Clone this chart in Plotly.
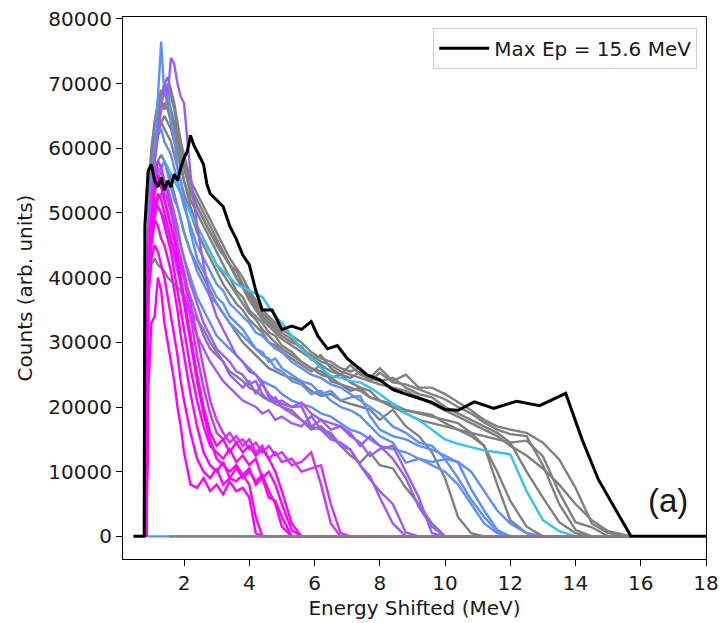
import plotly.graph_objects as go

# Energy grid (MeV) shared by the shot spectra
energy = [0.85, 0.9, 1.0, 1.1, 1.2, 1.3, 1.4, 1.5, 1.6, 1.7, 1.8, 1.9, 2.0, 2.2, 2.4, 2.6, 2.8,
          3.0, 3.2, 3.4, 3.6, 3.8, 4.0, 4.2, 4.4, 4.6, 4.8, 5.0, 5.3, 5.6, 5.9, 6.2, 6.5, 6.8,
          7.1, 7.4, 7.7, 8.0, 8.4, 8.8, 9.2, 9.6, 10.0, 10.4, 10.8, 11.2, 11.6, 12.0, 12.5,
          13.0, 13.5, 14.0, 14.5, 15.0, 15.7]

# counts in thousands (arb. units)
mag1_k = [0, 22, 33, 34, 40, 38, 33, 30, 27, 24, 20, 17, 13, 8, 7.5, 9, 7, 8, 6.5, 8.5, 7, 7.5, 6, 0.5, 0]
mag2_k = [0, 36, 43, 45, 44, 42, 40, 37, 34, 31, 28, 24, 21, 16, 12, 10, 9, 10.5, 8, 9, 8.5, 9.5, 8, 3, 0]
mag3_k = [0, 38, 45, 49, 48, 46, 45, 43, 41, 38, 35, 31, 28, 22, 17, 13, 11, 10, 11.5, 9, 10.5, 9, 10,
          8.5, 9.5, 7, 5, 1.5, 0]
mag4_k = [0, 42, 49, 52, 51, 50, 48, 46, 44, 41, 38, 35, 32, 26, 21, 17, 14, 13, 12, 13.5, 11.5, 12.5,
          11, 12, 9, 10, 8, 5, 1, 0]
mag5_k = [0, 44, 49, 54, 56, 54, 52, 50, 48, 46, 43, 40, 37, 31, 25, 20, 16, 14, 15, 13, 14.5, 13, 14,
          12.5, 13.5, 12, 10, 7, 2, 0]
mag6_k = [0, 40, 46, 50, 53, 52, 50, 48, 46, 44, 42, 39, 36, 30, 24, 19, 15, 12, 11, 10, 11, 9.5, 10.5,
          8, 9, 6, 5.5, 3, 0]
orc1_k = [0, 46, 53, 56, 58, 57, 55, 53, 51, 48, 45, 42, 40, 34, 28, 23, 19, 16, 15, 16, 14.5, 15, 13.5,
          14.5, 13, 14, 12.5, 13, 11, 11.5, 13, 8, 2, 0]
orc2_k = [0, 44, 50, 53, 55, 54, 53, 52, 50, 48, 45, 43, 41, 36, 31, 26, 21, 18, 16, 14.5, 15.5, 14, 15,
          13, 14, 12, 13, 11.5, 12, 10, 10.5, 11, 5, 0.5, 0]
pur1_k = [0, 45, 52, 58, 62, 66, 70, 68, 74, 73, 70, 68, 67, 56, 48, 42, 37, 34, 32, 30, 28, 27, 25.5,
          25, 23.5, 22, 21, 20.5, 20, 20.7, 19, 18, 17.5, 17, 15.5, 14.5, 12.4, 13.5, 14, 10, 6, 0.5, 0]
pur2_k = [0, 40, 47, 50, 52, 53, 52, 50, 48, 46, 44, 42, 40, 37, 34, 31, 29, 28, 27, 25, 24, 23, 24, 22,
          23.8, 21.5, 20.7, 21, 20, 20.1, 17, 18, 16.5, 17, 16, 14, 15.5, 14, 12, 9, 4.5, 1.5, 0]
pur3_k = [0, 38, 45, 49, 51, 50, 49, 47, 45, 43, 41, 39, 37, 34, 31, 29, 27, 25.5, 24, 23, 22, 21, 20.5,
          20, 19, 19.5, 18, 18.5, 17.5, 17, 18.6, 16.5, 16, 14, 13.4, 11, 9.3, 6, 2, 0]
pur4_k = [0, 43, 50, 54, 57, 56, 55, 54, 52, 50, 48, 45, 43, 39, 36, 33, 31, 29, 28, 27, 25.5, 25, 23.5,
          24, 22, 21, 21.5, 20, 19, 18, 17, 16.5, 15, 14.5, 13.4, 11, 8.8, 7, 5, 0.6, 0]
blu1_k = [0, 48, 55, 60, 68, 76.5, 68, 70, 64, 62, 57, 55, 52, 47, 43, 41, 39, 37, 36, 34, 33, 32, 30.5,
          29, 28.5, 27, 27.5, 26, 25, 24, 23.5, 22, 22.5, 21, 21.5, 21.7, 18.6, 16.5, 15.5, 15, 14,
          13.4, 12.5, 11.4, 7.3, 4, 1, 0]
blu2_k = [0, 45, 52, 56, 58, 57, 58, 56, 54, 52, 51, 49, 47, 44, 41, 39, 37, 36, 34.5, 33, 32, 31, 30,
          29, 28, 27.5, 26, 25.5, 24, 23.5, 22, 22.5, 21, 20, 19.5, 18.6, 17, 15.5, 14.5, 11.4, 12,
          11.5, 11.9, 9, 5.7, 3, 0.8, 0]
blu3_k = [0, 47, 55, 60, 62, 63, 61, 60, 59, 57, 55, 53, 51, 48, 45, 43, 41, 39, 38, 36, 35, 34, 33,
          31.5, 31, 30, 29, 28.5, 27, 26, 25, 24.5, 23.5, 23, 22, 21, 20, 19, 17, 16, 14.5, 14, 12,
          11.5, 10, 7, 4, 2, 0.5, 0]
blu4_k = [0, 42, 50, 54, 56, 55, 54, 53, 51, 49, 47, 45, 43, 40, 37, 35, 33, 31, 30, 29, 28, 27, 26,
          25, 24, 23.5, 23, 22, 21, 20.5, 20, 19, 18.5, 17.5, 16.5, 16, 15, 14, 13.5, 13, 12, 11, 10,
          8, 5, 2, 0.5, 0]
cya1_k = [0, 44, 50, 54, 56, 57, 58, 57, 56, 55, 54, 53, 52, 50, 48, 46, 44, 42, 41, 40, 39, 38.5, 38,
          37.5, 37, 35.5, 34, 33, 31, 29, 27.5, 26, 24.8, 24.5, 24, 23.8, 23, 22, 20.5, 19, 18, 16.5,
          15, 14.3, 13.8, 13.3, 13, 12.7, 7, 2.5, 0.8, 0]
gry1_k = [0, 50, 58, 63, 66, 68, 70, 71, 69, 67, 64, 61, 58, 54, 52, 50, 48, 46, 44, 42, 40, 38.5, 37,
          35.5, 34, 33, 32, 31, 30, 29.4, 27.3, 28, 26, 25, 26.5, 25, 24.5, 26, 24, 25, 23, 23, 22,
          20.7, 19.5, 18, 17, 16.5, 16, 14.5, 11.9, 7.5, 2, 0.5, 0]
gry2_k = [0, 48, 55, 60, 64, 66, 67, 66, 64, 62, 60, 58, 55, 52, 50, 48, 46, 44, 42, 40, 38, 37, 35,
          34, 33, 31.5, 31, 29.5, 28.5, 27, 26, 25.5, 24.5, 25, 23.8, 23, 22.5, 21, 20.5, 19.5, 19.1,
          18.8, 17.5, 16.5, 15.5, 14, 10, 5.5, 1.5, 0]
gry3_k = [0, 52, 60, 64, 67, 69, 68, 70, 68, 66, 63, 61, 59, 55, 53, 51, 49, 47, 45, 43, 41.5, 40, 38,
          36.5, 35, 34, 33, 32, 31, 30, 28.5, 27.5, 27, 26, 25.5, 26, 24.5, 24, 24.5, 23, 22, 21.5,
          20, 19, 18, 17, 16, 14.5, 10, 6, 2.2, 0.5, 0]
gry4_k = [0, 46, 54, 58, 62, 64, 65, 64, 63, 61, 59, 57, 55, 51, 48, 46, 44, 42, 40.5, 39, 37.5, 36,
          34.5, 33.5, 32, 31, 30, 29, 28, 27, 26, 25, 24.5, 23.5, 23, 22.5, 21.5, 21, 20, 19, 18, 17.5,
          17, 16.5, 16, 15.5, 15, 14.5, 14.8, 12.4, 6.8, 2.2, 1.4, 0]
gry5_k = [0, 50, 57, 61, 63, 64, 63, 62, 61, 59, 57, 55, 53, 50, 47, 45, 43, 41, 39, 37.5, 36, 35,
          33.5, 32.5, 31.5, 30, 29.5, 28.5, 27.5, 26.5, 25.5, 26.5, 24, 23.5, 22.5, 23, 21.5, 21, 20,
          19.5, 19, 18.5, 18, 17.5, 16, 14, 8, 2.5, 0.5, 0]
gry6_k = [0, 51, 59, 64, 67, 68, 69, 67, 65, 63, 61, 59, 57, 53, 51, 49, 47, 45.5, 44, 42, 41, 39,
          37.5, 36, 34.5, 33.5, 32.5, 31.5, 30.5, 29, 28, 27, 26.5, 25.5, 25, 24.5, 24, 23.5, 23, 22.5,
          21.5, 20.5, 19.5, 18.5, 17.5, 16.5, 15.5, 14, 12.5, 10.5, 8, 5, 2.5, 0.8, 0]
gry7_k = [0, 38, 42, 43, 42, 41.5, 41, 40, 39.5, 39, 38.5, 38, 37, 35, 33.5, 32, 30, 28.5, 27, 25.5,
          24.8, 24, 23, 22.5, 21.6, 21, 20.5, 20, 19.5, 18, 16.5, 17, 15.5, 14, 12.5, 11.4, 13, 11,
          10.5, 7.5, 5, 2, 0]
gry8_k = [0, 45, 52, 56, 58, 59, 58, 57, 55, 53, 51, 49, 47, 44, 42, 40, 38, 36, 34.5, 33, 31.5, 30,
          29, 28, 27, 26, 25.5, 25, 24.5, 23.8, 22.5, 21.7, 22, 21, 20.5, 20, 19.6, 18, 19.6, 17, 15.5,
          13, 9, 3, 0.5, 0]
gry9_k = [0, 49, 56, 62, 65, 67, 66, 68, 66, 64, 62, 60, 58, 54, 51, 49, 47, 45, 43.5, 42, 40, 38.5,
          36.5, 35, 33.5, 32.5, 31.5, 30.5, 29.5, 28.5, 27.5, 26.5, 25.5, 25, 24.5, 25.5, 24, 25.3,
          23.8, 23.5, 22.7, 22, 21.2, 20, 19, 17.6, 16.5, 15.8, 15.5, 11, 5, 1, 0]

# reference shot (Max Ep = 15.6 MeV), own energy axis
black_energy = [0.45, 0.78, 0.8, 0.85, 0.9, 1.0, 1.1, 1.2, 1.3, 1.4, 1.5, 1.6, 1.7, 1.8, 1.9, 2.0,
                2.1, 2.2, 2.3, 2.4, 2.5, 2.6, 2.7, 2.8, 3.0, 3.2, 3.4, 3.6, 3.8, 4.0, 4.2, 4.4, 4.7,
                5.0, 5.3, 5.6, 5.9, 6.1, 6.4, 6.7, 7.0, 7.3, 7.6, 8.0, 8.4, 8.8, 9.2, 9.6, 10.0,
                10.4, 10.9, 11.5, 12.2, 12.9, 13.7, 14.2, 14.7, 15.7, 18.0]
black_k = [0, 0, 48, 53, 56.5, 57.5, 55, 54, 55.5, 53.5, 55, 54, 56, 55, 57, 58.5, 59.5, 62, 60.5,
           59.5, 58.5, 57.5, 54.5, 53, 52, 51, 48, 46, 43.5, 42, 38, 35, 35, 32, 32.5, 32, 33.2, 31,
           29, 29.5, 27.5, 26.3, 25, 24.2, 22.7, 22, 21.3, 20.7, 19.6, 19.5, 20.8, 19.8, 20.9, 20.2,
           22.1, 15, 8.8, 0, 0]

# empty shots lying on the baseline
empty_blue_energy = [0.9, 15.7]
empty_gray_energy = [1.55, 15.7]
empty_k = [0, 0]

MAG, ORC, PUR, BLU, CYA, GRY = "#ff00ff", "#cf33f6", "#9e5cf6", "#5e90f6", "#33c2f2", "#808080"

gray_series = [gry1_k, gry2_k, gry3_k, gry4_k, gry5_k, gry6_k, gry7_k, gry8_k, gry9_k]
color_series = [(cya1_k, CYA), (blu4_k, BLU), (blu3_k, BLU), (blu2_k, BLU), (blu1_k, BLU),
                (pur4_k, PUR), (pur3_k, PUR), (pur2_k, PUR), (pur1_k, PUR),
                (orc2_k, ORC), (orc1_k, ORC),
                (mag6_k, MAG), (mag5_k, MAG), (mag4_k, MAG), (mag3_k, MAG), (mag2_k, MAG),
                (mag1_k, MAG)]

LW = 2.4
fig = go.Figure()


def add_series(vals_k, color, width=LW):
    xs = energy[:len(vals_k)]
    ys = [v * 1000 for v in vals_k]
    if len(xs) < len(energy):
        xs = xs + [energy[-1]]
        ys = ys + [0]
    fig.add_trace(go.Scatter(x=xs, y=ys, mode="lines", line=dict(color=color, width=width),
                             showlegend=False, hoverinfo="skip"))


for vals in gray_series:
    add_series(vals, GRY)
for vals, col in color_series:
    add_series(vals, col)

fig.add_trace(go.Scatter(x=empty_blue_energy, y=[v * 1000 for v in empty_k], mode="lines",
                         line=dict(color=BLU, width=LW), showlegend=False, hoverinfo="skip"))
fig.add_trace(go.Scatter(x=empty_gray_energy, y=[v * 1000 for v in empty_k], mode="lines",
                         line=dict(color=GRY, width=LW), showlegend=False, hoverinfo="skip"))

fig.add_trace(go.Scatter(x=black_energy, y=[v * 1000 for v in black_k], mode="lines",
                         line=dict(color="black", width=3), name="Max Ep = 15.6 MeV"))

font_family = "DejaVu Sans"
FS = 20
axis_common = dict(showgrid=False, zeroline=False, showline=True, mirror=True, automargin=False,
                   linecolor="black", linewidth=1.2, ticks="outside", ticklen=6, tickwidth=1.2,
                   tickcolor="black", tickfont=dict(family=font_family, size=FS, color="#1a1a1a"))

fig.update_layout(
    width=720, height=623,
    margin=dict(l=123, r=14, t=17, b=64),
    plot_bgcolor="white", paper_bgcolor="white",
    font=dict(family=font_family, size=FS, color="#1a1a1a"),
    xaxis=dict(range=[0.13, 18], tickvals=[2, 4, 6, 8, 10, 12, 14, 16, 18],
               title=dict(text="Energy Shifted (MeV)", standoff=6,
                          font=dict(family=font_family, size=FS)), **axis_common),
    yaxis=dict(range=[-3500, 80300], tickvals=[0, 10000, 20000, 30000, 40000, 50000, 60000,
                                               70000, 80000], tickformat="d",
               title=dict(text="Counts (arb. units)", standoff=10,
                          font=dict(family=font_family, size=FS)), **axis_common),
    legend=dict(x=0.985, y=0.98, xanchor="right", yanchor="top", bgcolor="white",
                bordercolor="#d0d0d0", borderwidth=1, itemwidth=50,
                font=dict(family=font_family, size=FS, color="#1a1a1a")),
    annotations=[dict(x=16.85, y=5500, xref="x", yref="y", text="(a)", showarrow=False,
                      font=dict(family="Liberation Sans", size=33, color="#1a1a1a"))],
)

fig.write_html("out.html")
